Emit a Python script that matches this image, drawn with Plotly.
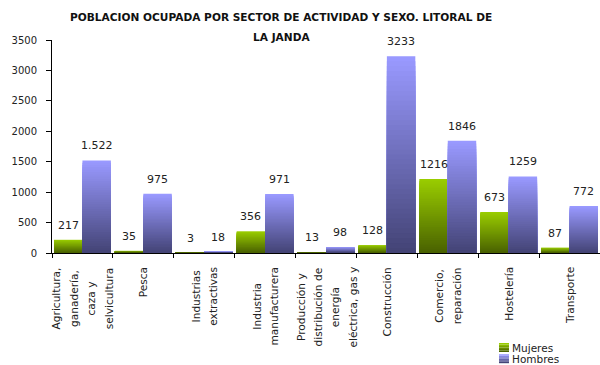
import plotly.graph_objects as go

# Sectors of activity (lines of each axis label separated by <br>)
sectores = [
    "Agricultura,<br>ganadería,<br>caza y<br>selvicultura",
    "Pesca",
    "Industrias<br>extractivas",
    "Industria<br>manufacturera",
    "Producción y<br>distribución de<br>energía<br>eléctrica, gas y",
    "Construcción",
    "Comercio,<br>reparación",
    "Hostelería",
    "Transporte",
]
mujeres = [217, 35, 3, 356, 13, 128, 1216, 673, 87]
hombres = [1522, 975, 18, 971, 98, 3233, 1846, 1259, 772]
etiquetas_mujeres = ["217", "35", "3", "356", "13", "128", "1216", "673", "87"]
etiquetas_hombres = ["1.522", "975", "18", "971", "98", "3233", "1846", "1259", "772"]
ticks_y = [0, 500, 1000, 1500, 2000, 2500, 3000, 3500]

FONT = "DejaVu Sans"
W, H = 600, 365
ML, MR, MT, MB = 52, 0, 40, 112
PW, PH = W - ML - MR, H - MT - MB

BAR_W = 0.467
N_SLICES = 40

series = [
    ("Mujeres", mujeres, etiquetas_mujeres, -BAR_W, (74, 98, 0), (153, 204, 0)),
    ("Hombres", hombres, etiquetas_hombres, 0.0, (68, 68, 118), (153, 153, 255)),
]


def mix(c0, c1, t):
    return "rgb(%d,%d,%d)" % tuple(round(a + (b - a) * t) for a, b in zip(c0, c1))


fig = go.Figure()

# Each bar shades from dark (base) to light (top): the full-height bar is drawn
# in the lightest tone, then progressively shorter, darker bars on top of it.
for name, vals, _, offset, dark, light in series:
    for k in range(N_SLICES):
        frac = (N_SLICES - k) / N_SLICES
        fig.add_trace(go.Bar(
            x=sectores,
            y=[v * frac for v in vals],
            offset=offset,
            width=BAR_W,
            marker=dict(color=mix(dark, light, 1 - k / (N_SLICES - 1)), line=dict(width=0)),
            name=name,
            showlegend=False,
            hoverinfo="skip",
        ))

annotations = []

# Value labels above each bar
for name, vals, labels, offset, dark, light in series:
    shift = (offset + BAR_W / 2) * PW / len(sectores)
    for cat, v, lab in zip(sectores, vals, labels):
        annotations.append(dict(
            x=cat, y=v, xref="x", yref="y", text=lab, showarrow=False,
            xshift=shift, yshift=14.5, yanchor="middle",
            font=dict(family=FONT, size=11, color="#222"),
        ))

# Rotated category labels below the axis
for cat in sectores:
    txt = "<br>".join('<span style="font-size:10.6px">%s</span>' % ln for ln in cat.split("<br>"))
    annotations.append(dict(
        x=cat, y=0, xref="x", yref="paper", text=txt, showarrow=False,
        textangle=-90, yanchor="top", xanchor="center", yshift=-12, align="center",
        font=dict(family=FONT, size=13.4, color="#222"),
    ))


def px_x(px):
    return (px - ML) / PW


def px_y(py):
    return (H - MB - py) / PH


# Title (two lines)
annotations.append(dict(
    x=px_x(281), y=px_y(17), xref="paper", yref="paper", showarrow=False,
    text="<b>POBLACION OCUPADA POR SECTOR DE ACTIVIDAD Y SEXO. LITORAL DE</b>",
    xanchor="center", yanchor="middle", font=dict(family=FONT, size=10.6, color="#111"),
))
annotations.append(dict(
    x=px_x(281), y=px_y(37), xref="paper", yref="paper", showarrow=False,
    text="<b>LA JANDA</b>", xanchor="center", yanchor="middle",
    font=dict(family=FONT, size=10.6, color="#111"),
))

# Legend: shaded swatches with their labels
shapes = []
for i, (name, vals, _, offset, dark, light) in enumerate(series):
    cy = 347.5 + 11.2 * i
    top, bot = cy - 4.5, cy + 4.5
    steps = 6
    for s in range(steps):
        y0 = bot - (bot - top) * s / steps
        y1 = bot - (bot - top) * (s + 1) / steps
        shapes.append(dict(
            type="rect", xref="paper", yref="paper",
            x0=px_x(499), x1=px_x(509), y0=px_y(y0), y1=px_y(y1),
            fillcolor=mix(dark, light, s / (steps - 1)), line=dict(width=0),
        ))
    annotations.append(dict(
        x=px_x(510.5), y=px_y(cy), xref="paper", yref="paper", showarrow=False,
        text=name, xanchor="left", yanchor="middle", borderpad=0,
        font=dict(family=FONT, size=10.5, color="#222"),
    ))

fig.update_layout(
    width=W, height=H,
    margin=dict(l=ML, r=MR, t=MT, b=MB, autoexpand=False),
    paper_bgcolor="white", plot_bgcolor="white",
    barmode="overlay",
    showlegend=False,
    font=dict(family=FONT, color="#222"),
    annotations=annotations,
    shapes=shapes,
    xaxis=dict(
        type="category", categoryorder="array", categoryarray=sectores,
        range=[-0.5, len(sectores) - 0.5],
        showline=True, linecolor="#000", linewidth=1,
        ticks="outside", tickson="boundaries", ticklen=4, tickcolor="#000",
        showticklabels=False, showgrid=False, zeroline=False, fixedrange=True,
    ),
    yaxis=dict(
        range=[0, 3500], tickvals=ticks_y,
        showline=True, linecolor="#000", linewidth=1,
        ticks="outside", ticklen=5, tickcolor="#000",
        tickfont=dict(family=FONT, size=10, color="#222"),
        ticklabelstandoff=7,
        showgrid=False, zeroline=False, fixedrange=True,
    ),
)

fig.write_html("out.html")
